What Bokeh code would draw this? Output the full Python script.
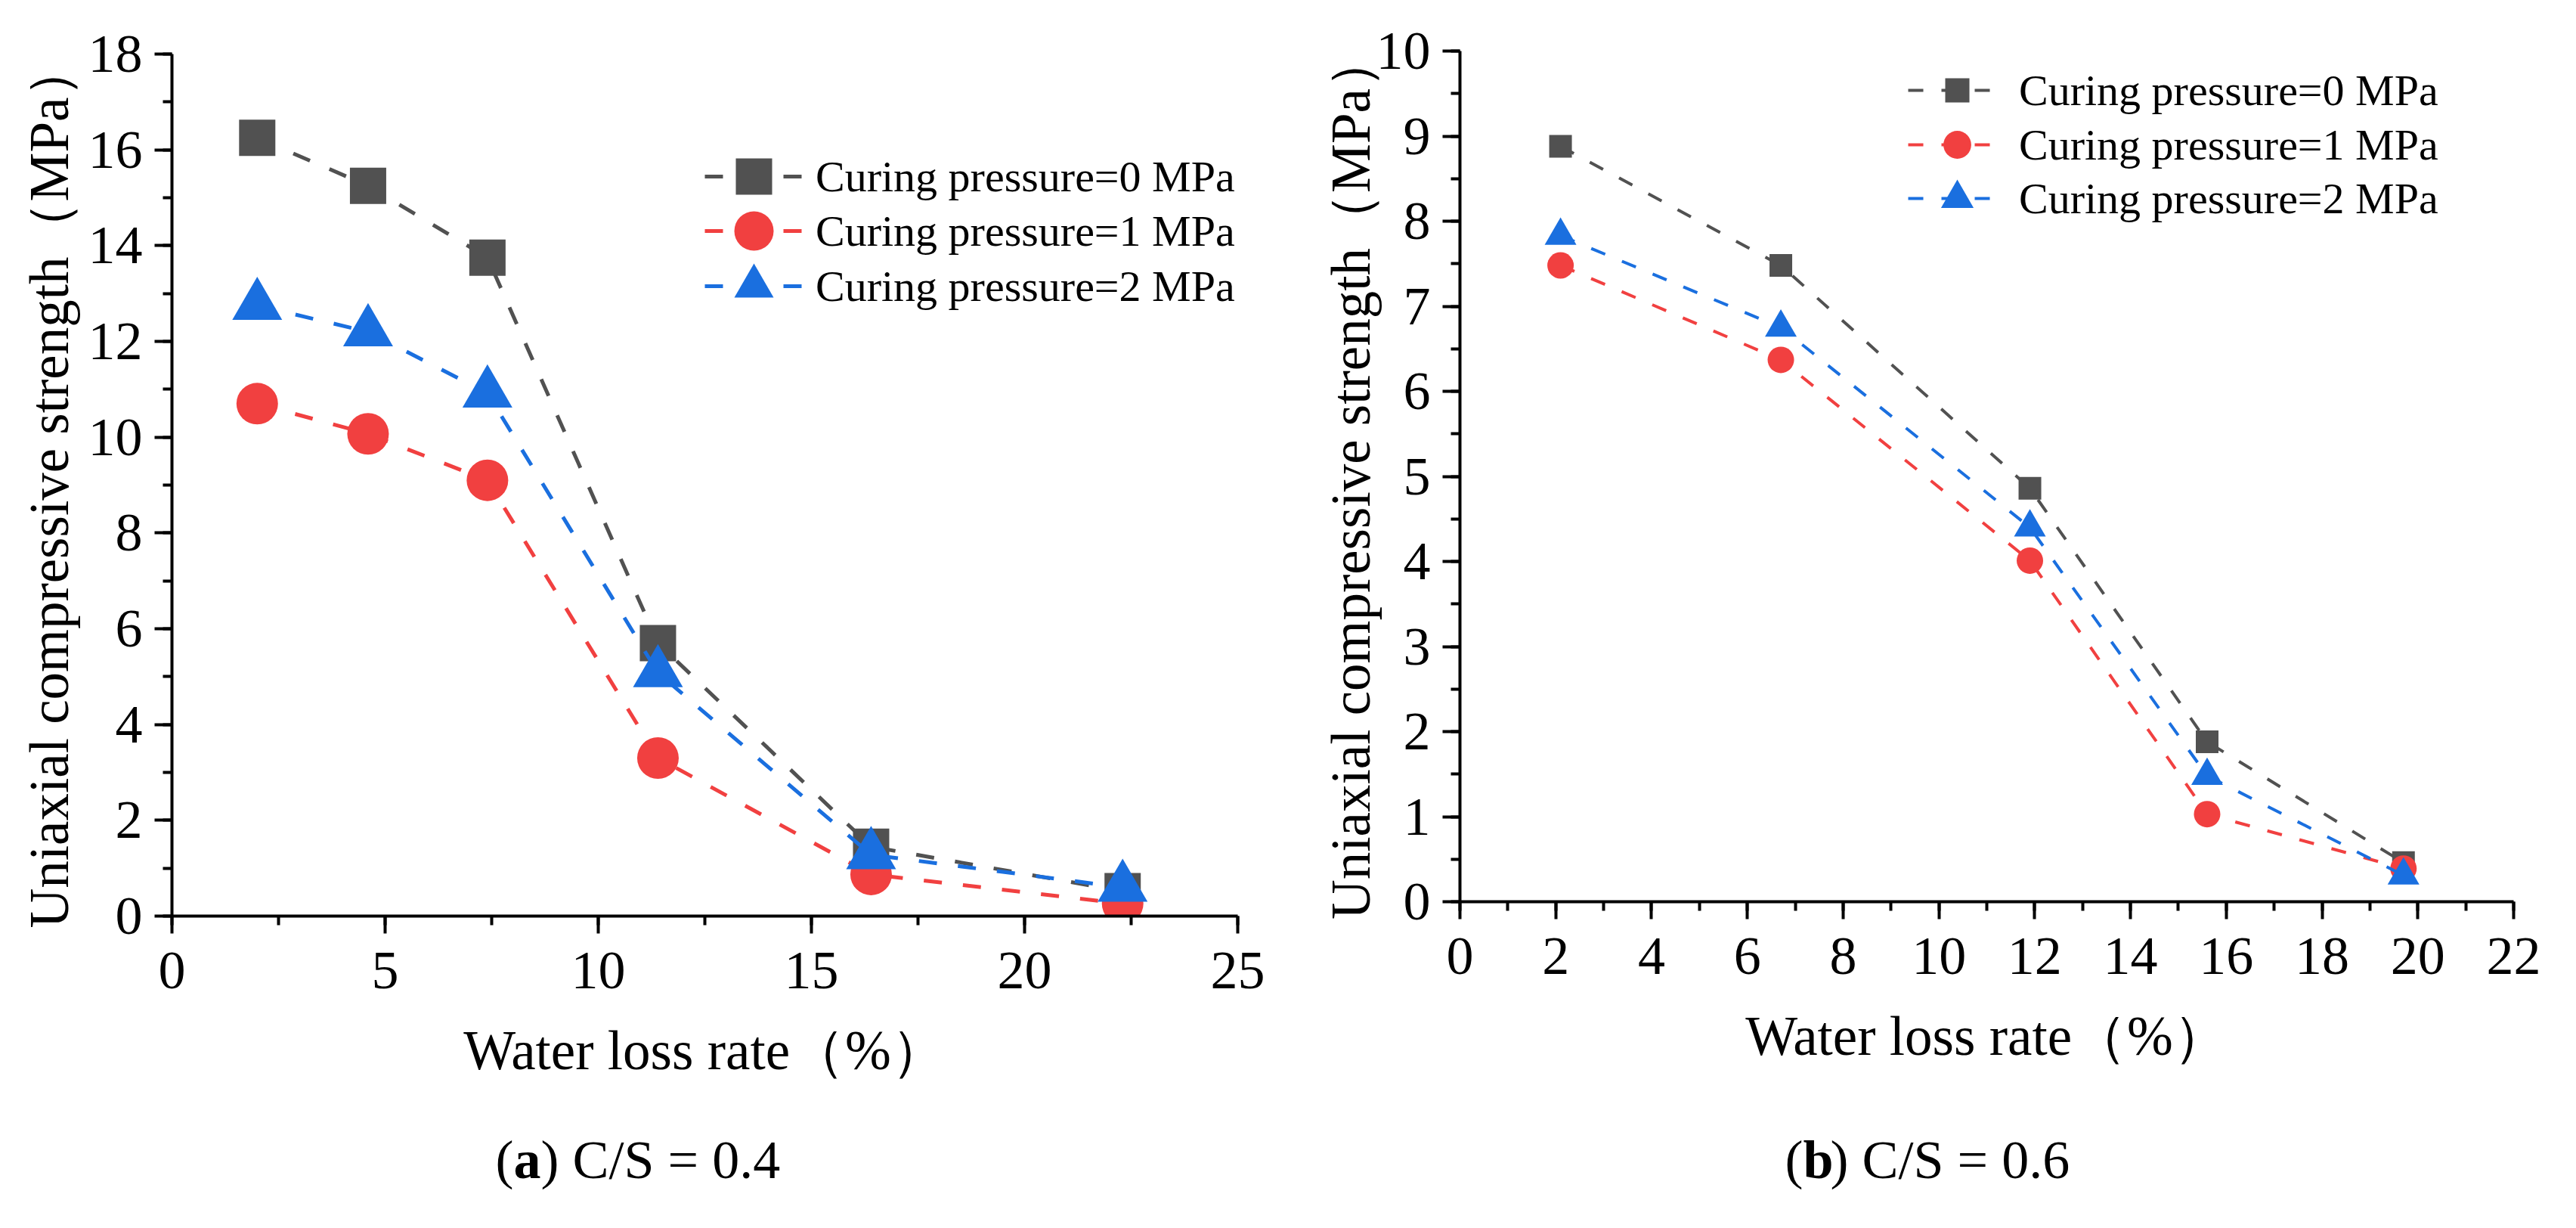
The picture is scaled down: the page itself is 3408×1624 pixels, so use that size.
from bokeh.plotting import figure
from bokeh.models import Range1d, SingleIntervalTicker, Legend, LegendItem
from bokeh.layouts import row, column
from bokeh.core.properties import value
from bokeh.embed import file_html
from bokeh.resources import INLINE

# ---------------- data ----------------
series_names = ["Curing pressure=0 MPa", "Curing pressure=1 MPa", "Curing pressure=2 MPa"]
series_colors = ["#515151", "#F14040", "#1A6FDF"]
series_markers = ["square", "circle", "triangle"]

x_title = "Water loss rate（%）"
y_title = "Uniaxial compressive strength（MPa）"

# (a) C/S = 0.4
a_water_loss = [2.0, 4.6, 7.4, 11.4, 16.4, 22.3]
a_p0 = [16.25, 15.25, 13.75, 5.70, 1.45, 0.52]
a_p1 = [10.70, 10.07, 9.10, 3.30, 0.87, 0.26]
a_p2 = [12.75, 12.20, 10.92, 5.08, 1.28, 0.60]

# (b) C/S = 0.6
b_water_loss = [2.1, 6.7, 11.9, 15.6, 19.7]
b_p0 = [8.88, 7.48, 4.86, 1.88, 0.46]
b_p1 = [7.48, 6.37, 4.01, 1.03, 0.39]
b_p2 = [7.83, 6.75, 4.40, 1.48, 0.31]

caption_a = ["(", "a", ") C/S = 0.4"]
caption_b = ["(", "b", ") C/S = 0.6"]

FONT = "Liberation Serif"


def make_panel(xs, ys_list, x_max, y_max, x_step, y_step, width, height,
               b_left, b_right, b_top, b_bottom, marker_sizes, line_w, dash,
               legend_x, legend_rows, legend_glyphs, ylab_standoff):
    p = figure(width=width, height=height, output_backend="svg", toolbar_location=None,
               x_range=Range1d(0, x_max), y_range=Range1d(0, y_max),
               min_border_left=b_left, min_border_right=b_right,
               min_border_top=b_top, min_border_bottom=b_bottom)
    p.frame_align = False
    p.outline_line_color = None
    p.xgrid.visible = False
    p.ygrid.visible = False
    p.background_fill_color = "white"
    p.border_fill_color = "white"

    p.xaxis.ticker = SingleIntervalTicker(interval=x_step, num_minor_ticks=2)
    p.yaxis.ticker = SingleIntervalTicker(interval=y_step, num_minor_ticks=2)
    for ax in (p.xaxis[0], p.yaxis[0]):
        ax.axis_line_width = 4
        ax.major_tick_line_width = 4
        ax.minor_tick_line_width = 4
        ax.major_tick_out = 23
        ax.major_tick_in = 0
        ax.minor_tick_out = 12
        ax.minor_tick_in = 0
        ax.major_label_text_font = FONT
        ax.major_label_text_font_size = "72px"
        ax.major_label_text_color = "black"
        ax.axis_label_text_font = FONT
        ax.axis_label_text_font_style = "normal"
        ax.axis_label_text_color = "black"
        ax.axis_label_text_font_size = "73px"
    p.xaxis.axis_label = x_title
    p.yaxis.axis_label = y_title
    p.xaxis.major_label_standoff = 25
    p.yaxis.major_label_standoff = 16
    p.xaxis.axis_label_standoff = 39
    p.yaxis.axis_label_standoff = ylab_standoff

    frame_h = height - b_top - b_bottom
    for ys, name, col, mk, ms, row_c, g in zip(ys_list, series_names, series_colors,
                                               series_markers, marker_sizes,
                                               legend_rows, legend_glyphs):
        lr = p.line(xs, ys, line_color=col, line_width=line_w, line_dash=dash)
        mr = p.scatter(xs, ys, marker=mk, size=ms, fill_color=col, line_color=None)
        # one legend per entry so each row can be placed and sized individually
        vy = frame_h - (row_c - b_top) - g / 2
        leg = Legend(items=[LegendItem(label=name, renderers=[lr, mr])],
                     location=(legend_x, int(round(vy))))
        leg.border_line_color = None
        leg.background_fill_alpha = 0
        leg.padding = 0
        leg.margin = 0
        leg.glyph_width = 130
        leg.glyph_height = g
        leg.label_height = 60
        leg.label_standoff = 17
        leg.label_text_font = FONT
        leg.label_text_font_size = "58px"
        leg.label_text_color = "black"
        p.add_layout(leg)
    return p


def make_caption(pieces, width, height, start_x, center_y):
    c = figure(width=width, height=height, output_backend="svg", toolbar_location=None,
               x_range=Range1d(0, width), y_range=Range1d(0, height),
               x_axis_type=None, y_axis_type=None,
               min_border=0)
    c.frame_align = False
    c.outline_line_color = None
    c.xgrid.visible = False
    c.ygrid.visible = False
    offsets = [0, 24, 60]
    styles = ["normal", "bold", "normal"]
    for txt, off, st in zip(pieces, offsets, styles):
        c.text(x=[start_x + off], y=[center_y], text=[txt], text_font=value(FONT),
               text_font_size="72px", text_font_style=st, text_baseline="middle",
               text_align="left", text_color="black")
    return c


# legend row centres are given in figure pixels from the top of each figure
pa = make_panel(a_water_loss, [a_p0, a_p1, a_p2], 25, 18, 5, 2,
                1700, 1460, 227, 63, 71, 249, [48, 55, 66], 5, "24 28",
                705, [233, 305, 378], [120, 130, 130], 8)
pb = make_panel(b_water_loss, [b_p0, b_p1, b_p2], 22, 10, 2, 1,
                1692, 1460, 231, 67, 67, 268, [30, 35, 42], 4, "20 24",
                593, [119, 191, 262], [80, 92, 108], -10)

ca = make_caption(caption_a, 1700, 140, 655, 67)
cb = make_caption(caption_b, 1692, 140, 661, 67)

layout = column(row(pa, pb), row(ca, cb))
open("out.html", "w").write(file_html(layout, INLINE))
